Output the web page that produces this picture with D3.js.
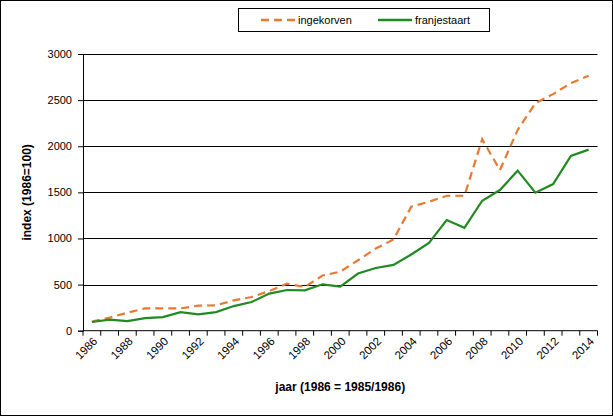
<!DOCTYPE html>
<html>
<head>
<meta charset="utf-8">
<title>ingekorven / franjestaart</title>
<script src="https://d3js.org/d3.v7.min.js"></script>
<style>
  body { margin: 0; background: #fff; }
  text { font-family: "Liberation Sans", Arial, sans-serif; fill: #000; }
</style>
</head>
<body>
<div id="chart"></div>
<script>

// data (index, 1986 = 100)
var years = d3.range(1986, 2015);
var ingekorven = [100, 141, 196, 242, 242, 242, 272, 275, 329, 365, 430, 510, 474, 598, 640,
                  764, 891, 989, 1344, 1398, 1463, 1463, 2076, 1742, 2177, 2467, 2565, 2685, 2764];
var franjestaart = [94, 120, 104, 137, 148, 202, 177, 202, 267, 311, 402, 441, 438, 503, 478,
                    620, 680, 713, 826, 952, 1199, 1115, 1409, 1525, 1735, 1496, 1590, 1895, 1963];
var yTicks = [0, 500, 1000, 1500, 2000, 2500, 3000];
var xLabels = years.filter(function(y) { return y % 2 === 0; });

var series = [
  {name: "ingekorven", values: ingekorven, color: "#e8792f", dash: "8,5"},
  {name: "franjestaart", values: franjestaart, color: "#218a21", dash: null}
];

var W = 613, H = 416;
var margin = {top: 54, right: 16, bottom: 85, left: 83},
    width = 597.5 - margin.left,
    height = 330.7 - margin.top;

var svg = d3.select("#chart")
  .append("svg")
    .attr("width", W)
    .attr("height", H);

// outer frame
svg.append("rect")
    .attr("x", 0.5).attr("y", 0.5)
    .attr("width", W - 1).attr("height", H - 1)
    .attr("fill", "#fff")
    .attr("stroke", "#000");

var g = svg.append("g")
    .attr("transform", "translate(" + margin.left + "," + margin.top + ")");

// x: one band per year, points in the middle
var x = d3.scaleBand()
    .domain(years)
    .range([0, width]);

var y = d3.scaleLinear()
    .domain([0, 3000])
    .range([height, 0]);

// gridlines
g.selectAll(".grid")
    .data(yTicks.slice(1))
    .enter().append("line")
      .attr("x1", 0).attr("x2", width)
      .attr("y1", function(d) { return Math.round(y(d)) + 0.5; })
      .attr("y2", function(d) { return Math.round(y(d)) + 0.5; })
      .attr("stroke", "#000")
      .attr("stroke-width", 1);

// y axis
var yAxis = g.append("g")
    .call(d3.axisLeft(y).tickValues(yTicks).tickFormat(d3.format("d")).tickSize(5).tickPadding(6));
yAxis.selectAll("text").style("font-size", "11px").attr("fill", "#000");
yAxis.selectAll("line, path").attr("stroke", "#000");

// x axis: ticks on category boundaries
var xAxis = g.append("g")
    .attr("transform", "translate(0," + height + ")");
xAxis.append("line")
    .attr("x1", 0).attr("x2", width)
    .attr("stroke", "#000");
xAxis.selectAll(".tick")
    .data(years.concat([2015]))
    .enter().append("line")
      .attr("x1", function(d) { return d === 2015 ? width : x(d); })
      .attr("x2", function(d) { return d === 2015 ? width : x(d); })
      .attr("y1", 0).attr("y2", 5)
      .attr("stroke", "#000");
xAxis.selectAll(".lbl")
    .data(xLabels)
    .enter().append("text")
      .attr("text-anchor", "end")
      .attr("transform", function(d) {
        return "translate(" + (x(d) + x.bandwidth() / 2 + 3) + ",8) rotate(-45)";
      })
      .attr("dy", "0.4em")
      .style("font-size", "11.5px")
      .text(function(d) { return d; });

// lines
var line = d3.line()
    .x(function(d, i) { return x(years[i]) + x.bandwidth() / 2; })
    .y(function(d) { return y(d); });

g.selectAll(".series")
    .data(series)
    .enter().append("path")
      .attr("d", function(s) { return line(s.values); })
      .attr("fill", "none")
      .attr("stroke", function(s) { return s.color; })
      .attr("stroke-width", 2.2)
      .attr("stroke-dasharray", function(s) { return s.dash; });

// axis titles
svg.append("text")
    .attr("transform", "translate(31," + (margin.top + height / 2) + ") rotate(-90)")
    .attr("text-anchor", "middle")
    .style("font-size", "12px")
    .style("font-weight", "bold")
    .text("index (1986=100)");

svg.append("text")
    .attr("x", margin.left + width / 2)
    .attr("y", 391)
    .attr("text-anchor", "middle")
    .style("font-size", "12px")
    .style("font-weight", "bold")
    .text("jaar (1986 = 1985/1986)");

// legend
var legend = svg.append("g");
legend.append("rect")
    .attr("x", 238.5).attr("y", 8.5)
    .attr("width", 251).attr("height", 23)
    .attr("fill", "#fff")
    .attr("stroke", "#000");

var legX = [261, 378];
var item = legend.selectAll(".item")
    .data(series)
    .enter().append("g")
      .attr("transform", function(s, i) { return "translate(" + legX[i] + ",20)"; });
item.append("line")
    .attr("x1", 0).attr("x2", 34)
    .attr("stroke", function(s) { return s.color; })
    .attr("stroke-width", 2.5)
    .attr("stroke-dasharray", function(s) { return s.dash; });
item.append("text")
    .attr("x", 37)
    .attr("dy", "0.35em")
    .style("font-size", "11px")
    .text(function(s) { return s.name; });

</script>
</body>
</html>
